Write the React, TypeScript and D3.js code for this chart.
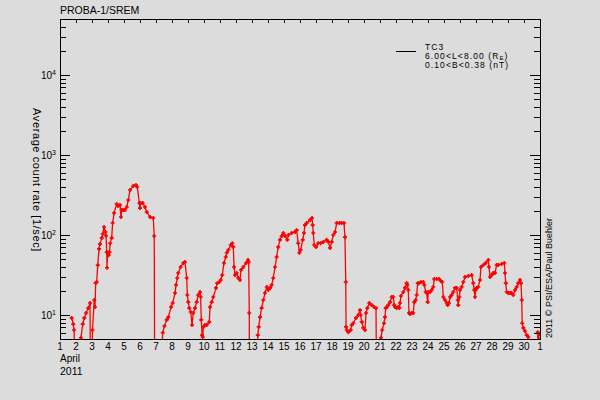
import React from 'react';
import * as d3 from 'd3';

const title = 'PROBA-1/SREM';
const yLabel = 'Average count rate [1/sec]';
const credit = '2011 \u00a9 PSI/ESA/Paul Buehler';
const monthLabel = 'April';
const yearLabel = '2011';
const legendChannel = 'TC3';
const legendL = ['6.00<L<8.00 (R', 'E', ')'];
const legendB = '0.10<B<0.38 (nT)';
const xTickLabels = ['1','2','3','4','5','6','7','8','9','10','11','12','13','14','15','16','17','18','19','20','21','22','23','24','25','26','27','28','29','30','1'];
const yMajorExp = [1, 2, 3, 4];

// day of April 2011 (fractional) and average count rate [1/sec]; 1 = below plot floor
const days = [
  1.73,1.83,1.88,1.94,2.28,2.31,2.42,2.52,2.63,2.77,2.88,2.89,2.98,3.03,3.14,3.19,3.23,3.29,3.36,3.44,
  3.5,3.61,3.67,3.75,3.84,3.88,3.92,3.94,3.97,4.04,4.09,4.14,4.23,4.29,4.38,4.54,4.63,4.75,4.81,4.86,
  4.96,5.06,5.17,5.27,5.38,5.58,5.75,5.83,5.96,6.0,6.04,6.17,6.31,6.42,6.63,6.83,6.89,6.92,7.25,7.42,
  7.53,7.67,7.77,7.94,8.04,8.19,8.25,8.33,8.39,8.54,8.71,8.81,8.92,8.96,9.02,9.08,9.17,9.25,9.33,9.44,
  9.54,9.64,9.75,9.79,9.83,9.88,9.92,9.96,10.06,10.17,10.33,10.38,10.48,10.58,10.75,10.83,10.96,11.04,11.14,11.25,
  11.36,11.42,11.52,11.67,11.77,11.83,11.88,11.94,12.04,12.14,12.25,12.31,12.46,12.63,12.75,12.79,12.83,12.84,13.28,13.36,
  13.42,13.5,13.6,13.71,13.81,13.92,14.02,14.13,14.23,14.33,14.44,14.54,14.64,14.75,14.86,14.96,15.06,15.21,15.27,15.48,
  15.69,15.79,15.89,15.96,16.04,16.17,16.25,16.31,16.42,16.63,16.75,16.79,16.83,16.89,17.0,17.14,17.29,17.46,17.67,17.77,
  17.88,17.98,18.08,18.19,18.29,18.46,18.6,18.75,18.81,18.86,18.88,18.92,19.02,19.17,19.23,19.33,19.5,19.64,19.75,19.79,
  19.86,19.96,20.06,20.13,20.21,20.33,20.48,20.63,20.75,20.79,21.03,21.06,21.14,21.25,21.31,21.36,21.42,21.52,21.63,21.73,
  21.83,21.89,21.94,22.04,22.14,22.21,22.25,22.31,22.46,22.56,22.67,22.71,22.77,22.81,22.88,22.98,23.08,23.14,23.23,23.29,
  23.36,23.44,23.56,23.71,23.77,23.86,23.92,23.98,24.02,24.13,24.23,24.33,24.39,24.54,24.69,24.81,24.89,24.96,25.06,25.17,
  25.23,25.31,25.38,25.48,25.58,25.69,25.79,25.86,25.89,25.96,26.0,26.1,26.21,26.31,26.52,26.73,26.83,26.89,26.94,26.98,
  27.04,27.14,27.25,27.31,27.46,27.6,27.77,27.81,27.88,27.98,28.08,28.19,28.29,28.39,28.6,28.77,28.81,28.86,28.92,29.02,
  29.13,29.23,29.33,29.44,29.54,29.64,29.75,29.81,29.86,29.89,29.96,30.06,30.17,30.27,30.31,30.84,30.86,30.94,30.95,
];
const rates = [
  9.2,7.7,6.5,1,1,5.2,7.7,9.2,10.6,12.2,14.1,1,1,6.5,15.4,12.6,25,25.8,42,67,
  77,92,103,126,109,98,61,39,60,56,61,79,92,141,188,244,230,237,168,205,
  205,205,224,274,365,410,422,398,251,217,251,251,224,194,168,163,97,1,1,6.0,
  7.3,8.7,9.4,12.6,14.1,18.8,23.7,29,33.5,39.8,44.7,46,29,17.8,14.5,12.2,10.9,7.5,10.6,12.2,
  14.5,17.8,19.4,16.8,8.7,5.6,5.3,7.1,7.5,7.5,8.2,12.6,14.5,16.8,21.8,25,25.8,27.4,31.6,44.7,
  53,60,65,75,79,71,39.8,31.6,33.5,29,27.4,36.5,39.8,44.7,48.7,46,10.6,1,1,5.6,
  7.1,9.4,12.2,15.4,18.8,22.4,20.5,21.8,23.7,29,39.8,53,71,87,97,106,97,87,100,106,
  109,115,79,60,65,87,106,133,141,154,163,133,106,75,71,79,79,82,87,82,
  69,82,100,109,141,141,141,141,94,25.8,7.1,6.5,6.1,6.5,7.5,7.9,9.2,10,11.5,10,
  8.2,6.9,6.5,10.6,12.2,14.1,13.3,12.6,12.2,1,1,5.2,6.5,7.9,9.4,12.2,12.6,13.3,14.5,16.8,
  16.8,13.3,12.6,12.2,12.6,12.2,14.1,17.3,19.4,21.8,25,23.7,20.5,10.6,10.3,10.6,10.6,14.5,15.4,17.8,
  25,25,25.8,25.8,23.7,19.4,18.8,14.5,19.4,19.4,20.5,22.4,28.2,28.2,28.2,26.6,25.8,16.8,15.4,14.1,
  13.3,14.1,16.8,17.8,19.4,21.8,21.8,15.4,13.3,16.8,20.5,22.4,25.8,29.9,30.7,31.6,25,20.5,16.8,20.5,
  21.8,22.4,27.4,39.8,42.2,44.7,48.7,39.8,29.9,31.6,33.5,33.5,42.2,42.2,43.4,44.7,33.5,25,19.4,18.8,
  18.8,18.8,17.8,20.5,22.4,25,27.4,25,15.4,7.9,6.9,6.3,5.6,5.3,1,1,6.1,5.8,1,
];

const FONT = '"Liberation Sans", Arial, sans-serif';

export default function App() {
  const W = 600, H = 400;
  const L = 60, R = 540, T = 19, B = 339;
  const x = d3.scaleLinear().domain([1, 31]).range([L, R]);
  const y = d3.scaleLog().domain([Math.pow(10, 0.7), Math.pow(10, 4.7)]).range([B, T]);
  const [ymin, ymax] = y.domain();
  const pts: [number, number][] = days.map((d, i) => [d, rates[i]]);
  const line = d3.line<[number, number]>().x(d => x(d[0])).y(d => y(d[1]));
  const yTicks: { v: number; major: boolean }[] = [];
  for (let e = 0; e <= 4; e++) {
    for (let m = 1; m <= 9; m++) {
      const v = m * Math.pow(10, e);
      if (v >= ymin - 1e-9 && v <= ymax + 1e-9) yTicks.push({ v, major: m === 1 });
    }
  }
  const xTicks = d3.range(1, 32);
  const red = '#ff0000';
  return (
    <svg width={W} height={H} style={{ position: 'absolute', left: 0, top: 0, display: 'block', background: '#dcdcdc' }}
      fontFamily={FONT}>
      <rect x={0} y={0} width={W} height={H} fill="#dcdcdc" />
      <defs>
        <clipPath id="plotclip"><rect x={L} y={T} width={R - L} height={B - T} /></clipPath>
      </defs>
      <text x={L} y={14} fontSize={10.5} fill="#000">{title}</text>
      {/* data */}
      <g clipPath="url(#plotclip)">
        <path d={line(pts) || ''} fill="none" stroke={red} strokeWidth={1.3} strokeLinejoin="miter" />
        {pts.filter(p => p[1] >= ymin).map((p, i) => (
          <path key={i} d={`M${x(p[0]) - 2},${y(p[1])}h4M${x(p[0])},${y(p[1]) - 2}v4`} stroke={red} strokeWidth={1.6} />
        ))}
      </g>
      {/* frame */}
      <rect x={L} y={T} width={R - L} height={B - T} fill="none" stroke="#000" strokeWidth={1} shapeRendering="crispEdges" />
      {/* y ticks left & right */}
      {yTicks.map((t, i) => {
        const yy = Math.round(y(t.v)) + 0.5;
        const len = t.major ? 10 : 6;
        return (
          <g key={i}>
            <line x1={L} x2={L + len} y1={yy} y2={yy} stroke="#000" strokeWidth={1} />
            <line x1={R} x2={R - len} y1={yy} y2={yy} stroke="#000" strokeWidth={1} />
          </g>
        );
      })}
      {yMajorExp.map(e => (
        <text key={e} x={L - 4} y={y(Math.pow(10, e)) + 4} fontSize={10} textAnchor="end" fill="#000">
          10<tspan fontSize={7} dy={-4}>{e}</tspan>
        </text>
      ))}
      {/* x ticks (top) and labels */}
      {xTicks.map((d, i) => (
        <g key={d}>
          <line x1={Math.round(x(d)) + 0.5} x2={Math.round(x(d)) + 0.5} y1={T} y2={T + 4} stroke="#000" strokeWidth={1} />
          <text x={x(d)} y={350} fontSize={10} textAnchor="middle" fill="#000">{xTickLabels[i]}</text>
        </g>
      ))}
      <text x={L} y={362} fontSize={10} fill="#000">{monthLabel}</text>
      <text x={L} y={375} fontSize={10.5} fill="#000">{yearLabel}</text>
      {/* y label */}
      <text transform={`translate(33,180) rotate(90)`} fontSize={11} letterSpacing={0.6} textAnchor="middle" fill="#000">{yLabel}</text>
      {/* credit */}
      <text transform={`translate(552,338) rotate(-90)`} fontSize={9} fill="#000">{credit}</text>
      {/* legend */}
      <line x1={396} x2={416} y1={51.5} y2={51.5} stroke="#000" strokeWidth={1} />
      <text x={425} y={49.5} fontSize={8.5} letterSpacing={1.1} fill="#000">{legendChannel}</text>
      <text x={425} y={58.5} fontSize={8.5} letterSpacing={1.1} fill="#000">
        {legendL[0]}<tspan fontSize={6} dy={1.5}>{legendL[1]}</tspan><tspan dy={-1.5}>{legendL[2]}</tspan>
      </text>
      <text x={425} y={67.5} fontSize={8.5} letterSpacing={1.1} fill="#000">{legendB}</text>
    </svg>
  );
}
